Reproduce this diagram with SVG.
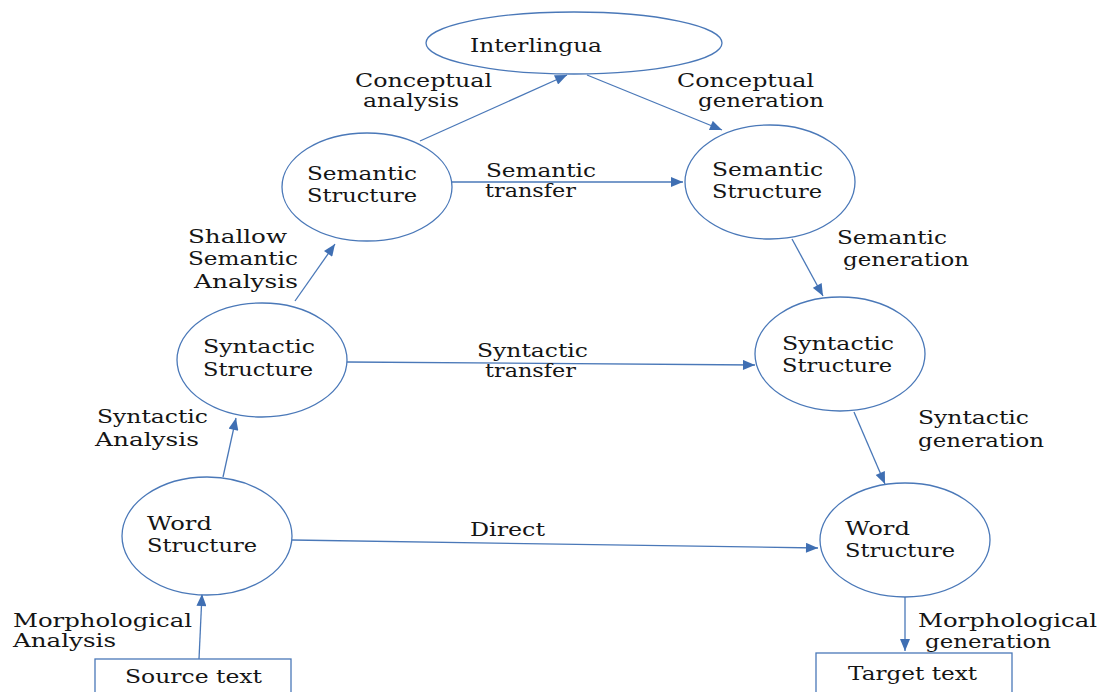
<svg xmlns="http://www.w3.org/2000/svg" width="1097" height="692" viewBox="0 0 1097 692">
  <style>
    .shape { fill: #ffffff; stroke: #4a78b8; stroke-width: 1.3; }
    .edge { fill: none; stroke: #4a78b8; stroke-width: 1.3; marker-end: url(#arrow); }
    text { font-family: "DejaVu Serif", "Liberation Serif", serif; font-size: 19px; fill: #151515; }
  </style>
  <defs>
    <marker id="arrow" viewBox="0 0 12 10" refX="12" refY="5" markerWidth="13" markerHeight="10" markerUnits="userSpaceOnUse" orient="auto">
      <path d="M0,0 L12,5 L0,10 Z" fill="#3f6fb3"/>
    </marker>
  </defs>

  <rect width="1097" height="692" fill="#ffffff"/>

  <g id="connectors">
    <line class="edge" x1="199" y1="659" x2="202" y2="594"/>
    <line class="edge" x1="223" y1="477" x2="236" y2="418"/>
    <line class="edge" x1="295" y1="301" x2="335" y2="244"/>
    <line class="edge" x1="420" y1="141" x2="567" y2="75"/>
    <line class="edge" x1="587" y1="75" x2="722" y2="130"/>
    <line class="edge" x1="452" y1="182" x2="683" y2="182"/>
    <line class="edge" x1="792" y1="239" x2="823" y2="296"/>
    <line class="edge" x1="347" y1="362" x2="755" y2="365"/>
    <line class="edge" x1="854" y1="412" x2="885" y2="484"/>
    <line class="edge" x1="292" y1="540" x2="818" y2="548"/>
    <line class="edge" x1="905" y1="597" x2="905" y2="651"/>
  </g>

  <g id="edge-labels">
    <text x="355" y="87" textLength="137" lengthAdjust="spacingAndGlyphs">Conceptual</text>
    <text x="363" y="107" textLength="96" lengthAdjust="spacingAndGlyphs">analysis</text>
    <text x="677" y="87" textLength="137" lengthAdjust="spacingAndGlyphs">Conceptual</text>
    <text x="698" y="107" textLength="126" lengthAdjust="spacingAndGlyphs">generation</text>
    <text x="486" y="177" textLength="110" lengthAdjust="spacingAndGlyphs">Semantic</text>
    <text x="485" y="197" textLength="91" lengthAdjust="spacingAndGlyphs">transfer</text>
    <text x="188" y="243" textLength="99" lengthAdjust="spacingAndGlyphs">Shallow</text>
    <text x="188" y="265" textLength="110" lengthAdjust="spacingAndGlyphs">Semantic</text>
    <text x="194" y="288" textLength="104" lengthAdjust="spacingAndGlyphs">Analysis</text>
    <text x="837" y="244" textLength="110" lengthAdjust="spacingAndGlyphs">Semantic</text>
    <text x="843" y="266" textLength="126" lengthAdjust="spacingAndGlyphs">generation</text>
    <text x="477" y="357" textLength="111" lengthAdjust="spacingAndGlyphs">Syntactic</text>
    <text x="485" y="377" textLength="91" lengthAdjust="spacingAndGlyphs">transfer</text>
    <text x="97" y="423" textLength="111" lengthAdjust="spacingAndGlyphs">Syntactic</text>
    <text x="95" y="446" textLength="104" lengthAdjust="spacingAndGlyphs">Analysis</text>
    <text x="918" y="424" textLength="111" lengthAdjust="spacingAndGlyphs">Syntactic</text>
    <text x="918" y="447" textLength="126" lengthAdjust="spacingAndGlyphs">generation</text>
    <text x="470" y="536" textLength="75" lengthAdjust="spacingAndGlyphs">Direct</text>
    <text x="13" y="627" textLength="179" lengthAdjust="spacingAndGlyphs">Morphological</text>
    <text x="13" y="647" textLength="103" lengthAdjust="spacingAndGlyphs">Analysis</text>
    <text x="918" y="627" textLength="179" lengthAdjust="spacingAndGlyphs">Morphological</text>
    <text x="925" y="648" textLength="126" lengthAdjust="spacingAndGlyphs">generation</text>
  </g>

  <g id="interlingua">
    <ellipse class="shape" cx="574" cy="43" rx="148" ry="31"/>
    <text x="470" y="52" textLength="132" lengthAdjust="spacingAndGlyphs">Interlingua</text>
  </g>

  <g id="semantic-source">
    <ellipse class="shape" cx="367" cy="187" rx="85" ry="54"/>
    <text x="307" y="180" textLength="110" lengthAdjust="spacingAndGlyphs">Semantic</text>
    <text x="307" y="202" textLength="110" lengthAdjust="spacingAndGlyphs">Structure</text>
  </g>

  <g id="semantic-target">
    <ellipse class="shape" cx="770" cy="182" rx="85" ry="57"/>
    <text x="712" y="176" textLength="111" lengthAdjust="spacingAndGlyphs">Semantic</text>
    <text x="712" y="198" textLength="110" lengthAdjust="spacingAndGlyphs">Structure</text>
  </g>

  <g id="syntactic-source">
    <ellipse class="shape" cx="262" cy="360" rx="85" ry="57"/>
    <text x="203" y="353" textLength="112" lengthAdjust="spacingAndGlyphs">Syntactic</text>
    <text x="203" y="376" textLength="110" lengthAdjust="spacingAndGlyphs">Structure</text>
  </g>

  <g id="syntactic-target">
    <ellipse class="shape" cx="840" cy="354" rx="85" ry="57"/>
    <text x="782" y="350" textLength="112" lengthAdjust="spacingAndGlyphs">Syntactic</text>
    <text x="782" y="372" textLength="110" lengthAdjust="spacingAndGlyphs">Structure</text>
  </g>

  <g id="word-source">
    <ellipse class="shape" cx="207" cy="536" rx="85" ry="59"/>
    <text x="147" y="530" textLength="65" lengthAdjust="spacingAndGlyphs">Word</text>
    <text x="147" y="552" textLength="110" lengthAdjust="spacingAndGlyphs">Structure</text>
  </g>

  <g id="word-target">
    <ellipse class="shape" cx="905" cy="540" rx="85" ry="57"/>
    <text x="845" y="535" textLength="65" lengthAdjust="spacingAndGlyphs">Word</text>
    <text x="845" y="557" textLength="110" lengthAdjust="spacingAndGlyphs">Structure</text>
  </g>

  <g id="source-text">
    <rect class="shape" x="95" y="659" width="196" height="40"/>
    <text x="125" y="683" textLength="137" lengthAdjust="spacingAndGlyphs">Source text</text>
  </g>

  <g id="target-text">
    <rect class="shape" x="816" y="653" width="196" height="46"/>
    <text x="848" y="680" textLength="129" lengthAdjust="spacingAndGlyphs">Target text</text>
  </g>
</svg>
